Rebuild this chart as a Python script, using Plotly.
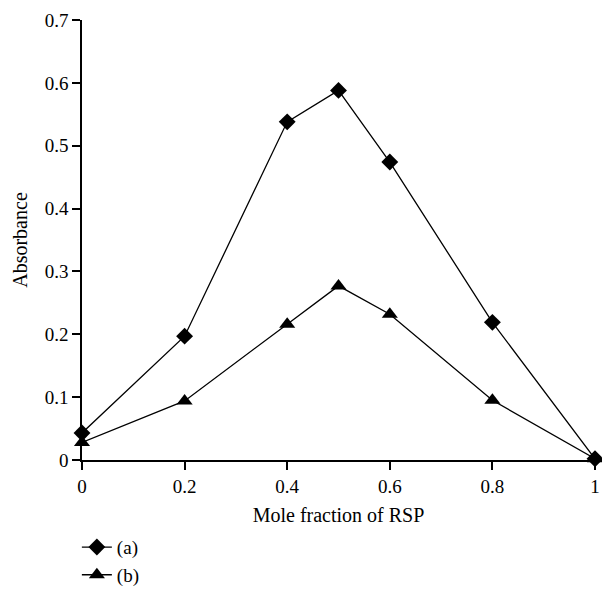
import plotly.graph_objects as go

mole_fraction = [0, 0.2, 0.4, 0.5, 0.6, 0.8, 1.0]
absorbance_a = [0.043, 0.197, 0.538, 0.588, 0.474, 0.219, 0.002]
absorbance_b = [0.028, 0.094, 0.216, 0.277, 0.232, 0.095, 0.002]
x_ticks = [0, 0.2, 0.4, 0.6, 0.8, 1]
x_tick_labels = ["0", "0.2", "0.4", "0.6", "0.8", "1"]
y_ticks = [0, 0.1, 0.2, 0.3, 0.4, 0.5, 0.6, 0.7]
y_tick_labels = ["0", "0.1", "0.2", "0.3", "0.4", "0.5", "0.6", "0.7"]

font_family = "Liberation Serif, DejaVu Serif, serif"

fig = go.Figure()
fig.add_trace(go.Scatter(
    x=mole_fraction, y=absorbance_a, name="(a)", mode="lines+markers",
    line=dict(color="black", width=1.3),
    marker=dict(symbol="diamond", size=13, color="black"),
    cliponaxis=False,
))
fig.add_trace(go.Scatter(
    x=mole_fraction, y=absorbance_b, name="(b)", mode="lines+markers",
    line=dict(color="black", width=1.3),
    marker=dict(symbol="triangle-up", size=14, color="black"),
    cliponaxis=False,
))

fig.update_layout(
    width=602, height=590,
    margin=dict(l=82, r=7, t=20, b=130, autoexpand=False),
    paper_bgcolor="white", plot_bgcolor="white",
    font=dict(family=font_family, size=19, color="black"),
    showlegend=True,
    legend=dict(
        x=-0.01, y=-0.305, xanchor="left", yanchor="bottom",
        font=dict(family=font_family, size=19, color="black"),
        bgcolor="rgba(0,0,0,0)", tracegroupgap=0, itemwidth=30,
    ),
    xaxis=dict(
        range=[0, 1], tickvals=x_ticks, ticktext=x_tick_labels,
        showline=True, linecolor="black", linewidth=1.5,
        ticks="outside", ticklen=8, tickwidth=1.5, tickcolor="black",
        showgrid=False, zeroline=False, ticklabeloverflow="allow",
        title=dict(text="Mole fraction of RSP", font=dict(size=20), standoff=12),
    ),
    yaxis=dict(
        range=[0, 0.7], tickvals=y_ticks, ticktext=y_tick_labels,
        showline=True, linecolor="black", linewidth=1.5,
        ticks="outside", ticklen=8, tickwidth=1.5, tickcolor="black",
        showgrid=False, zeroline=False, ticklabeloverflow="allow",
        title=dict(text="Absorbance", font=dict(size=20), standoff=12),
    ),
)

fig.write_html(
    "out.html",
    config={"displayModeBar": False},
    post_script="document.body.style.margin='0';document.body.style.overflow='hidden';",
)
